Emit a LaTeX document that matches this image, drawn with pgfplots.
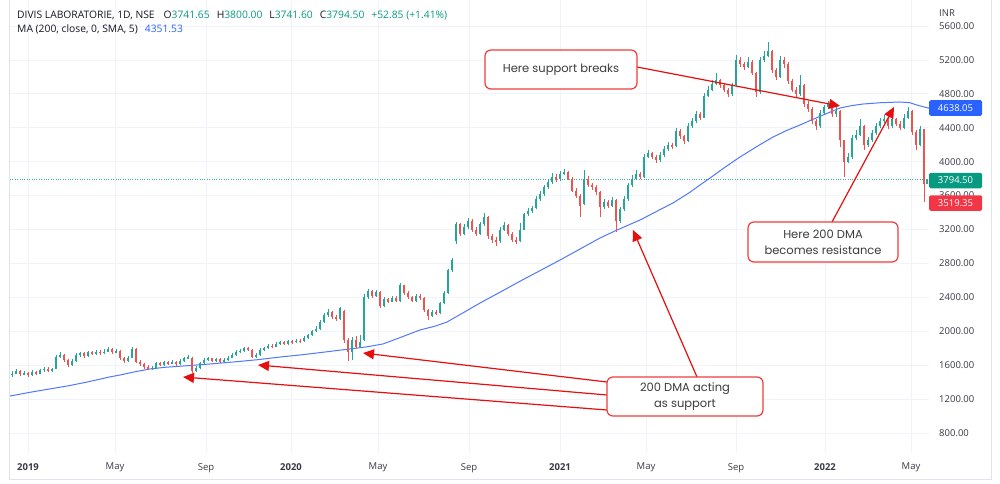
\documentclass[border=0pt]{standalone}
\usepackage{pgfplots}
\pgfplotsset{compat=1.18}
\usepackage{pgfplotstable}
\usepackage{fontspec}
\setmainfont{Open Sans}
\newfontfamily\pop{Poppins}
\usetikzlibrary{arrows.meta}
\definecolor{upc}{RGB}{38,166,154}
\definecolor{dnc}{RGB}{239,83,80}
\definecolor{mac}{RGB}{80,120,255}
\definecolor{gridc}{RGB}{240,243,250}
\definecolor{framec}{RGB}{224,227,235}
\definecolor{txt}{RGB}{19,23,34}
\definecolor{axtxt}{RGB}{55,58,68}
\definecolor{hdrg}{RGB}{8,153,129}
\definecolor{hdrb}{RGB}{41,98,255}
\definecolor{arr}{RGB}{230,15,15}
\definecolor{boxr}{RGB}{240,60,60}
\definecolor{boxt}{RGB}{60,60,60}
\definecolor{lblb}{RGB}{41,98,255}
\definecolor{lblg}{RGB}{8,153,129}
\definecolor{lblr}{RGB}{242,54,69}
\definecolor{dotc}{RGB}{60,180,160}

\pgfplotstableread{
x o h l c
12 1480 1530 1460 1500
16 1500 1550 1490 1530
20 1530 1545 1470 1490
24 1490 1530 1480 1510
28 1510 1520 1460 1480
32 1480 1540 1470 1520
36 1520 1535 1485 1500
40 1500 1560 1490 1540
44 1540 1580 1525 1560
48 1560 1575 1515 1530
52 1530 1570 1520 1550
56 1560 1720 1550 1700
60 1700 1760 1680 1720
64 1720 1730 1640 1660
68 1660 1670 1580 1600
72 1600 1670 1590 1650
76 1650 1740 1640 1720
80 1720 1760 1700 1740
84 1740 1755 1690 1710
88 1710 1770 1700 1750
92 1750 1765 1715 1730
96 1730 1780 1720 1760
100 1760 1775 1725 1740
104 1740 1785 1730 1760
108 1760 1810 1750 1790
112 1790 1800 1735 1750
116 1750 1790 1740 1770
120 1770 1780 1660 1680
124 1680 1700 1630 1650
128 1650 1710 1640 1690
132 1690 1820 1680 1790
136 1790 1800 1620 1640
140 1640 1660 1590 1610
144 1610 1625 1560 1580
148 1580 1600 1540 1560
152 1560 1590 1545 1570
156 1570 1640 1560 1620
160 1620 1635 1585 1600
164 1600 1655 1590 1640
168 1640 1650 1605 1620
172 1620 1660 1610 1640
176 1640 1650 1595 1610
180 1610 1670 1600 1650
184 1650 1700 1640 1680
188 1680 1720 1670 1700
192 1690 1700 1510 1530
196 1530 1590 1520 1570
200 1570 1640 1560 1620
204 1620 1680 1610 1660
208 1660 1700 1650 1680
212 1680 1690 1635 1650
216 1650 1690 1640 1670
220 1670 1680 1625 1640
224 1640 1680 1630 1660
228 1660 1710 1650 1690
232 1690 1740 1680 1720
236 1720 1780 1710 1760
240 1760 1795 1745 1770
244 1770 1820 1760 1800
248 1800 1815 1765 1780
252 1780 1790 1680 1700
256 1700 1740 1690 1720
260 1720 1800 1710 1780
264 1780 1820 1770 1800
268 1800 1850 1790 1830
272 1830 1845 1805 1820
276 1820 1870 1810 1850
280 1850 1890 1840 1870
284 1870 1885 1835 1850
288 1850 1900 1840 1880
292 1880 1895 1855 1870
296 1870 1910 1860 1890
300 1890 1905 1865 1880
304 1880 1940 1870 1920
308 1920 1970 1910 1950
312 1950 2020 1940 2000
316 2000 2060 1990 2030
320 2030 2130 2020 2110
324 2110 2210 2100 2190
328 2190 2260 2170 2230
332 2230 2240 2150 2170
336 2170 2190 2120 2140
340 2140 2290 2130 2270
344 2240 2250 1860 1900
348 1900 1920 1650 1760
352 1760 1930 1660 1900
356 1900 1940 1790 1820
360 1820 1960 1800 1870
364 1900 2440 1890 2400
368 2400 2500 2380 2470
372 2470 2490 2390 2420
376 2420 2490 2400 2460
380 2460 2470 2270 2300
384 2300 2400 2290 2380
388 2380 2395 2330 2350
392 2350 2420 2340 2390
396 2390 2410 2340 2360
400 2360 2570 2350 2540
404 2540 2550 2430 2450
408 2450 2470 2380 2400
412 2400 2420 2340 2360
416 2360 2440 2350 2420
420 2420 2435 2370 2390
424 2390 2400 2230 2250
428 2250 2260 2130 2180
432 2180 2250 2170 2230
436 2230 2250 2190 2210
440 2210 2350 2200 2330
444 2330 2470 2320 2450
448 2450 2740 2440 2720
452 2720 2860 2700 2840
456 3060 3290 3030 3260
460 3260 3280 3120 3150
464 3150 3260 3130 3230
468 3230 3340 3210 3300
472 3300 3320 3170 3200
476 3200 3230 3120 3150
480 3150 3290 3140 3260
484 3260 3400 3240 3350
488 3350 3360 3090 3120
492 3120 3150 3040 3080
496 3080 3110 3000 3060
500 3060 3230 3040 3200
504 3200 3290 3180 3250
508 3250 3270 3120 3150
512 3150 3170 3050 3080
516 3080 3110 3030 3060
520 3060 3280 3050 3200
524 3200 3400 3190 3380
528 3380 3450 3360 3420
532 3420 3480 3400 3450
536 3450 3590 3440 3560
540 3560 3650 3540 3620
544 3620 3730 3600 3700
548 3700 3800 3680 3760
552 3760 3870 3740 3820
556 3820 3850 3760 3790
560 3790 3890 3770 3860
564 3860 3910 3840 3880
568 3880 3890 3780 3800
572 3800 3820 3640 3660
576 3660 3690 3570 3600
580 3600 3620 3350 3480
584 3500 3900 3490 3800
588 3800 3830 3700 3720
592 3720 3750 3670 3700
596 3700 3720 3610 3640
600 3640 3650 3350 3460
604 3460 3560 3440 3520
608 3520 3550 3450 3480
612 3480 3580 3460 3550
616 3550 3560 3170 3300
620 3300 3470 3280 3440
624 3440 3590 3420 3560
628 3560 3750 3540 3720
632 3720 3840 3700 3800
636 3800 3900 3780 3860
640 3860 3880 3790 3820
644 3820 4090 3810 4060
648 4060 4140 4040 4100
652 4100 4120 4030 4060
656 4060 4080 3990 4020
660 4020 4110 4000 4080
664 4080 4180 4060 4150
668 4150 4230 4130 4200
672 4200 4220 4150 4180
676 4180 4400 4170 4360
680 4360 4380 4270 4300
684 4300 4320 4210 4240
688 4240 4460 4230 4420
692 4420 4510 4400 4480
696 4480 4600 4460 4560
700 4560 4590 4490 4520
704 4520 4810 4510 4780
708 4780 4890 4760 4850
712 4850 4960 4830 4920
716 4920 5050 4900 4960
720 4960 4980 4870 4900
724 4900 4920 4820 4850
728 4850 4870 4760 4800
732 4800 4930 4780 4900
736 4900 5260 4890 5200
740 5200 5230 5120 5150
744 5150 5180 5080 5120
748 5120 5230 5100 5180
752 5180 5200 5020 5050
756 5050 5060 4760 4820
760 4820 5240 4800 5200
764 5200 5300 5180 5250
768 5250 5410 5230 5300
772 5300 5320 5050 5080
776 5080 5100 4960 5000
780 5000 5250 4990 5200
784 5200 5230 5110 5150
788 5150 5170 4920 4950
792 4950 4980 4820 4850
796 4850 4880 4760 4800
800 4800 5020 4780 4900
804 4900 4920 4650 4680
808 4680 4710 4590 4620
812 4620 4640 4450 4480
816 4480 4500 4370 4420
820 4420 4610 4400 4580
824 4580 4670 4560 4640
828 4640 4710 4620 4680
832 4680 4700 4530 4560
836 4560 4640 4530 4600
840 4600 4610 4170 4250
844 4250 4260 3820 4000
848 4000 4100 3980 4050
852 4050 4310 4030 4280
856 4280 4370 4250 4320
860 4320 4500 4300 4420
864 4420 4430 4140 4200
868 4200 4290 4170 4250
872 4250 4370 4230 4340
876 4340 4460 4320 4420
880 4420 4510 4400 4480
884 4480 4550 4460 4500
888 4500 4520 4390 4420
892 4420 4530 4400 4500
896 4500 4520 4420 4450
900 4450 4480 4370 4400
904 4400 4560 4390 4520
908 4520 4640 4500 4600
912 4600 4610 4320 4350
916 4350 4370 4140 4200
920 4200 4420 4180 4380
924 4380 4390 3519 3742
927 3742 3800 3742 3794
}\candles

\pgfplotstableread{
x v
10 1236
30 1280
50 1320
70 1360
87 1401
100 1435
110 1462
120 1484
135 1522
150 1555
165 1575
183 1590
208 1612
233 1637
258 1665
280 1696
300 1720
318 1745
333 1767
350 1791
366 1815
383 1850
400 1925
420 2015
435 2060
447 2109
462 2210
480 2333
500 2460
520 2590
540 2715
560 2840
580 2970
600 3100
617 3194
640 3312
656 3410
673 3513
690 3640
700 3725
710 3807
725 3935
740 4055
757 4180
773 4291
787 4370
800 4433
812 4495
823 4550
840 4633
852 4662
863 4680
880 4695
900 4704
910 4695
917 4668
929 4630
}\maline

\begin{document}
\begin{tikzpicture}
\path[use as bounding box, fill=white] (0,0) rectangle (1000pt,483pt);
\begin{axis}[
  at={(10pt,30pt)}, anchor=south west, scale only axis,
  width=919pt, height=453pt,
  xmin=10, xmax=929, ymin=564, ymax=5907,
  axis line style={draw=none}, tick style={draw=none},
  grid=major, major grid style={draw=gridc, line width=0.8pt},
  xtick={28,115,206,291,378,469,560,646,736,825,911},
  xticklabels={\textbf{2019},May,Sep,\textbf{2020},May,Sep,\textbf{2021},May,Sep,\textbf{2022},May},
  xticklabel style={anchor=north, inner sep=0pt, yshift=-10pt, font=\fontsize{9.5}{11}\selectfont, text=axtxt},
  ytick={800,1200,1600,2000,2400,2800,3200,3600,4000,4400,4800,5200,5600},
  yticklabels={800.00,1200.00,1600.00,2000.00,2400.00,2800.00,3200.00,3600.00,4000.00,4400.00,4800.00,5200.00,5600.00},
  yticklabel pos=right,
  yticklabel style={anchor=west, inner sep=0pt, xshift=10pt, font=\fontsize{9.5}{11}\selectfont, text=axtxt},
]
\addplot[dotc, line width=0.6pt, dash pattern=on 0.8pt off 1.6pt] coordinates {(10,3794.5) (929,3794.5)};
\addplot[mac, line width=1pt] table[x=x, y=v] {\maline};
% wicks
\addplot[draw=none, mark=none, error bars/.cd, y dir=both, y explicit, error mark=none,
  error bar style={draw=upc, line width=0.7pt}]
  table[x=x, y expr={\thisrow{c}>=\thisrow{o} ? 0.5*(\thisrow{h}+\thisrow{l}) : nan}, y error expr={0.5*(\thisrow{h}-\thisrow{l})}] {\candles};
\addplot[draw=none, mark=none, error bars/.cd, y dir=both, y explicit, error mark=none,
  error bar style={draw=dnc, line width=0.7pt}]
  table[x=x, y expr={\thisrow{c}<\thisrow{o} ? 0.5*(\thisrow{h}+\thisrow{l}) : nan}, y error expr={0.5*(\thisrow{h}-\thisrow{l})}] {\candles};
% bodies
\addplot[draw=none, mark=none, error bars/.cd, y dir=both, y explicit, error mark=none,
  error bar style={draw=upc, line width=2.4pt, line cap=butt}]
  table[x=x, y expr={\thisrow{c}>=\thisrow{o} ? 0.5*(\thisrow{o}+\thisrow{c}) : nan}, y error expr={0.5*abs(\thisrow{c}-\thisrow{o})}] {\candles};
\addplot[draw=none, mark=none, error bars/.cd, y dir=both, y explicit, error mark=none,
  error bar style={draw=dnc, line width=2.4pt, line cap=butt}]
  table[x=x, y expr={\thisrow{c}<\thisrow{o} ? 0.5*(\thisrow{o}+\thisrow{c}) : nan}, y error expr={0.5*abs(\thisrow{c}-\thisrow{o})}] {\candles};
\end{axis}

\begin{scope}[x=1pt, y=-1pt, shift={(0pt,483pt)}]
% frame
\draw[framec, line width=0.8pt] (9.5,0) -- (9.5,479) -- (991,479) -- (991,0);
% header
\node[anchor=base west, inner sep=0pt, font=\fontsize{10.3}{12}\selectfont, text=txt] at (17,18.5)
 {DIVIS LABORATORIE, 1D, NSE\hspace{9pt}O{\color{hdrg}3741.65}\hspace{7pt}H{\color{hdrg}3800.00}\hspace{7pt}L{\color{hdrg}3741.60}\hspace{7pt}C{\color{hdrg}3794.50}\hspace{7pt}{\color{hdrg}+52.85 (+1.41\%)}};
\node[anchor=base west, inner sep=0pt, font=\fontsize{10.3}{12}\selectfont, text=txt] at (17,33)
 {MA (200, close, 0, SMA, 5)\hspace{7pt}{\color{hdrb}4351.53}};
\node[anchor=base west, inner sep=0pt, font=\fontsize{9.5}{11}\selectfont, text=axtxt] at (939,17) {INR};
% price labels
\node[fill=lblb, text=white, rounded corners=1.5pt, minimum width=53pt, minimum height=15.5pt, inner sep=0pt, font=\fontsize{9.5}{11}\selectfont] at (955.5,108) {4638.05};
\node[fill=lblg, text=white, rounded corners=1.5pt, minimum width=53pt, minimum height=15.5pt, inner sep=0pt, font=\fontsize{9.5}{11}\selectfont] at (955.5,180.5) {3794.50};
\node[fill=lblr, text=white, rounded corners=1.5pt, minimum width=53pt, minimum height=15.5pt, inner sep=0pt, font=\fontsize{9.5}{11}\selectfont] at (955.5,203) {3519.35};
% arrows
\begin{scope}[arr, line width=1.2pt, -{Triangle[length=11pt, width=10pt]}]
\draw (637,67) -- (840,106);
\draw (832,222) -- (894,107);
\draw (697,377) -- (633,230);
\draw (607,382) -- (363,353);
\draw (607,395) -- (258,365);
\draw (607,410) -- (183,377);
\end{scope}
% boxes
\draw[boxr, line width=1.2pt, fill=white, rounded corners=6pt] (485,50) rectangle (637,89);
\node[font=\pop\fontsize{11.5}{16}\selectfont, text=boxt, align=center] at (561,69.5) {Here support breaks};
\draw[boxr, line width=1.2pt, fill=white, rounded corners=6pt] (748,222) rectangle (898,262);
\node[font=\pop\fontsize{11.5}{16}\selectfont, text=boxt, align=center] at (823,242) {Here 200 DMA\\becomes resistance};
\draw[boxr, line width=1.2pt, fill=white, rounded corners=6pt] (607,377) rectangle (763,416);
\node[font=\pop\fontsize{11.5}{16}\selectfont, text=boxt, align=center] at (685,396.5) {200 DMA acting\\as support};
\end{scope}
\end{tikzpicture}
\end{document}
